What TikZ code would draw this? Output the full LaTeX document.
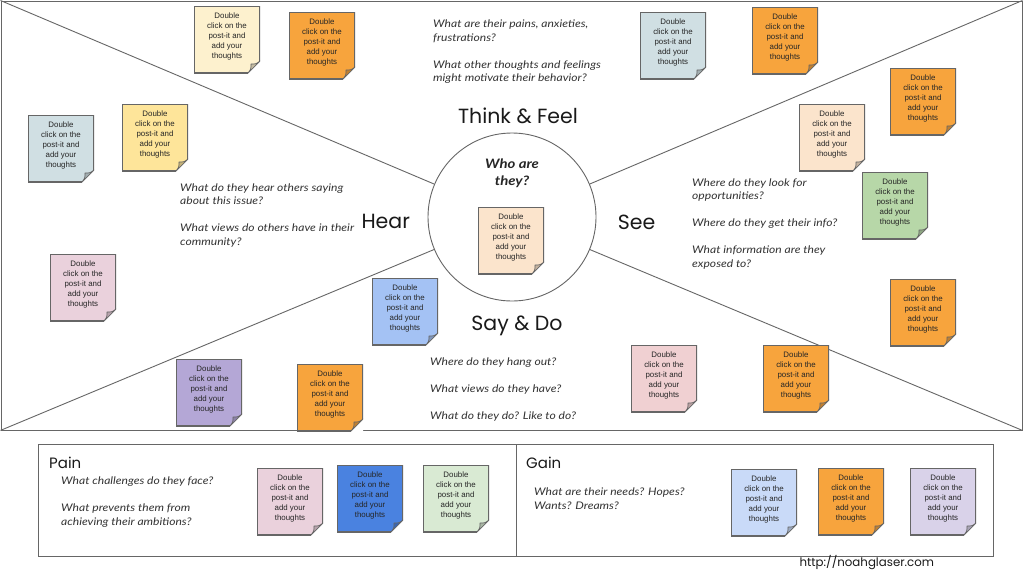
\documentclass[tikz,border=0pt]{standalone}
\usepackage{fontspec}
\setmainfont{Liberation Sans}
\newfontfamily\postfont{Liberation Sans}
\newfontfamily\askfont[FakeStretch=1.15]{Lato}
\newfontfamily\headfont{Poppins}

\definecolor{rim}{HTML}{666666}
\definecolor{ink}{HTML}{333333}
\definecolor{orange}{HTML}{F7A43D}
\definecolor{cream}{HTML}{FDF1CE}
\definecolor{slate}{HTML}{D0DFE3}
\definecolor{peach}{HTML}{FBE4CC}
\definecolor{sage}{HTML}{B7D7A8}
\definecolor{rose}{HTML}{F0D0D2}
\definecolor{mauve}{HTML}{EAD1DC}
\definecolor{sky}{HTML}{A4C2F4}
\definecolor{grape}{HTML}{B4A7D6}
\definecolor{butter}{HTML}{FEE59A}
\definecolor{royal}{HTML}{4A82E0}
\definecolor{mint}{HTML}{D9EAD3}
\definecolor{ice}{HTML}{C9DAF8}
\definecolor{lilac}{HTML}{D9D2E9}

\begin{document}
\begin{tikzpicture}[
  x=1pt, y=-1pt,
  frame/.style={draw=rim, line width=0.9pt, inner sep=0pt},
  postit/.style={rectangle, fill=#1, minimum width=66pt, minimum height=67pt,
    inner sep=0pt, align=center, text depth=8pt, text=black!85,
    font=\postfont\fontsize{7.9}{10}\selectfont,
    path picture={
      \fill[white] ([yshift=12pt]path picture bounding box.south east)
        -- ([shift={(1pt,-1pt)}]path picture bounding box.south east)
        -- ([xshift=-12pt]path picture bounding box.south east) -- cycle;
      \draw[draw=rim, line width=1.4pt]
        ([xshift=-12pt]path picture bounding box.south east)
        -- (path picture bounding box.south west)
        -- (path picture bounding box.north west)
        -- (path picture bounding box.north east)
        -- ([yshift=12pt]path picture bounding box.south east);
      \draw[draw=rim, fill=#1!78!black, line width=0.7pt, line join=round]
        ([yshift=12pt]path picture bounding box.south east)
        -- ([xshift=-12pt]path picture bounding box.south east)
        .. controls ([shift={(-9pt,4pt)}]path picture bounding box.south east)
        .. ([shift={(-9pt,9pt)}]path picture bounding box.south east)
        .. controls ([shift={(-4pt,9pt)}]path picture bounding box.south east)
        .. cycle;
    }},
  ask/.style={anchor=north west, align=left, inner sep=0pt, text=ink,
    font=\askfont\itshape\fontsize{10.5}{13.5}\selectfont},
  head/.style={anchor=base, inner sep=0pt, text=black!90,
    font=\headfont\fontsize{20.5}{24}\selectfont},
  subhead/.style={anchor=base west, inner sep=0pt, text=black!90,
    font=\headfont\fontsize{15}{18}\selectfont}
]
\fill[white] (0,0) rectangle (1024,576);
\useasboundingbox (0,0) rectangle (1024,576);

% empathy map
\node[frame, minimum width=1021pt, minimum height=429pt, anchor=north west] (map) at (0.5,0.5) {};
\node[frame, circle, minimum size=168pt] (who) at (512,217) {};
\draw[frame] (map.north west) -- (who);
\draw[frame] (map.north east) -- (who);
\draw[frame] (map.south west) -- (who);
\draw[frame] (map.south east) -- (who);

% pain and gain
\node[frame, minimum width=478pt, minimum height=112pt, anchor=north west] (pain) at (38,444) {};
\node[frame, minimum width=477pt, minimum height=112pt, anchor=north west] (gain) at (516,444) {};

% headings
\node[head] (think) at (518,123.3) {Think \& Feel};
\node[head] (hear) at (385.7,228.3) {Hear};
\node[head] (see) at (636.5,229) {See};
\node[head] (say) at (517,330) {Say \& Do};
\node[subhead] (painhead) at (49,468.3) {Pain};
\node[subhead] (gainhead) at (526,468.3) {Gain};
\node[anchor=base west, inner sep=0pt, text=black!90,
  font=\headfont\fontsize{11.8}{14}\selectfont] (site) at (799.3,566) {http://noahglaser.com};
\node[anchor=north, align=center, inner sep=0pt, text=black!85,
  font=\askfont\bfseries\itshape\fontsize{13}{17}\selectfont] (whoask) at (512,158.5) {Who are\\they?};

% questions
\node[ask] (thinkask) at (433,20) {What are their pains, anxieties,\\frustrations?\\[13.5pt]What other thoughts and feelings\\might motivate their behavior?};
\node[ask] (hearask) at (180,183.5) {What do they hear others saying\\about this issue?\\[13.5pt]What views do others have in their\\community?};
\node[ask] (seeask) at (692,178.5) {Where do they look for\\opportunities?\\[13.5pt]Where do they get their info?\\[13.5pt]What information are they\\exposed to?};
\node[ask] (sayask) at (430,357.5) {Where do they hang out?\\[13.5pt]What views do they have?\\[13.5pt]What do they do? Like to do?};
\node[ask] (painask) at (61,477) {What challenges do they face?\\[13.5pt]What prevents them from\\achieving their ambitions?};
\node[ask] (gainask) at (534,488) {What are their needs? Hopes?\\Wants? Dreams?};

% post-its
\foreach \name/\pos/\tint in {
    think1/{227,39.5}/cream, think2/{322,45.5}/orange, think3/{673,45.5}/slate, think4/{785,40.5}/orange,
    see1/{923,101.5}/orange, see2/{832,137.5}/peach, see3/{895,205.5}/sage, see4/{923,312.5}/orange,
    say1/{796,378.5}/orange, say2/{664,378.5}/rose, say3/{405,311.5}/sky, say4/{330,397.5}/orange,
    say5/{209,392.5}/grape,
    hear1/{83,287.5}/mauve, hear2/{61,148.5}/slate, hear3/{155,137.5}/butter,
    centre/{511,240.5}/peach,
    pain1/{290,501.5}/mauve, pain2/{370,498.5}/royal, pain3/{456,498.5}/mint,
    gain1/{764,502.5}/ice, gain2/{851,501.5}/orange, gain3/{943,501.5}/lilac}
  \node[postit=\tint] (\name) at (\pos) {Double\\click on the\\post-it and\\add your\\thoughts};
\end{tikzpicture}
\end{document}
